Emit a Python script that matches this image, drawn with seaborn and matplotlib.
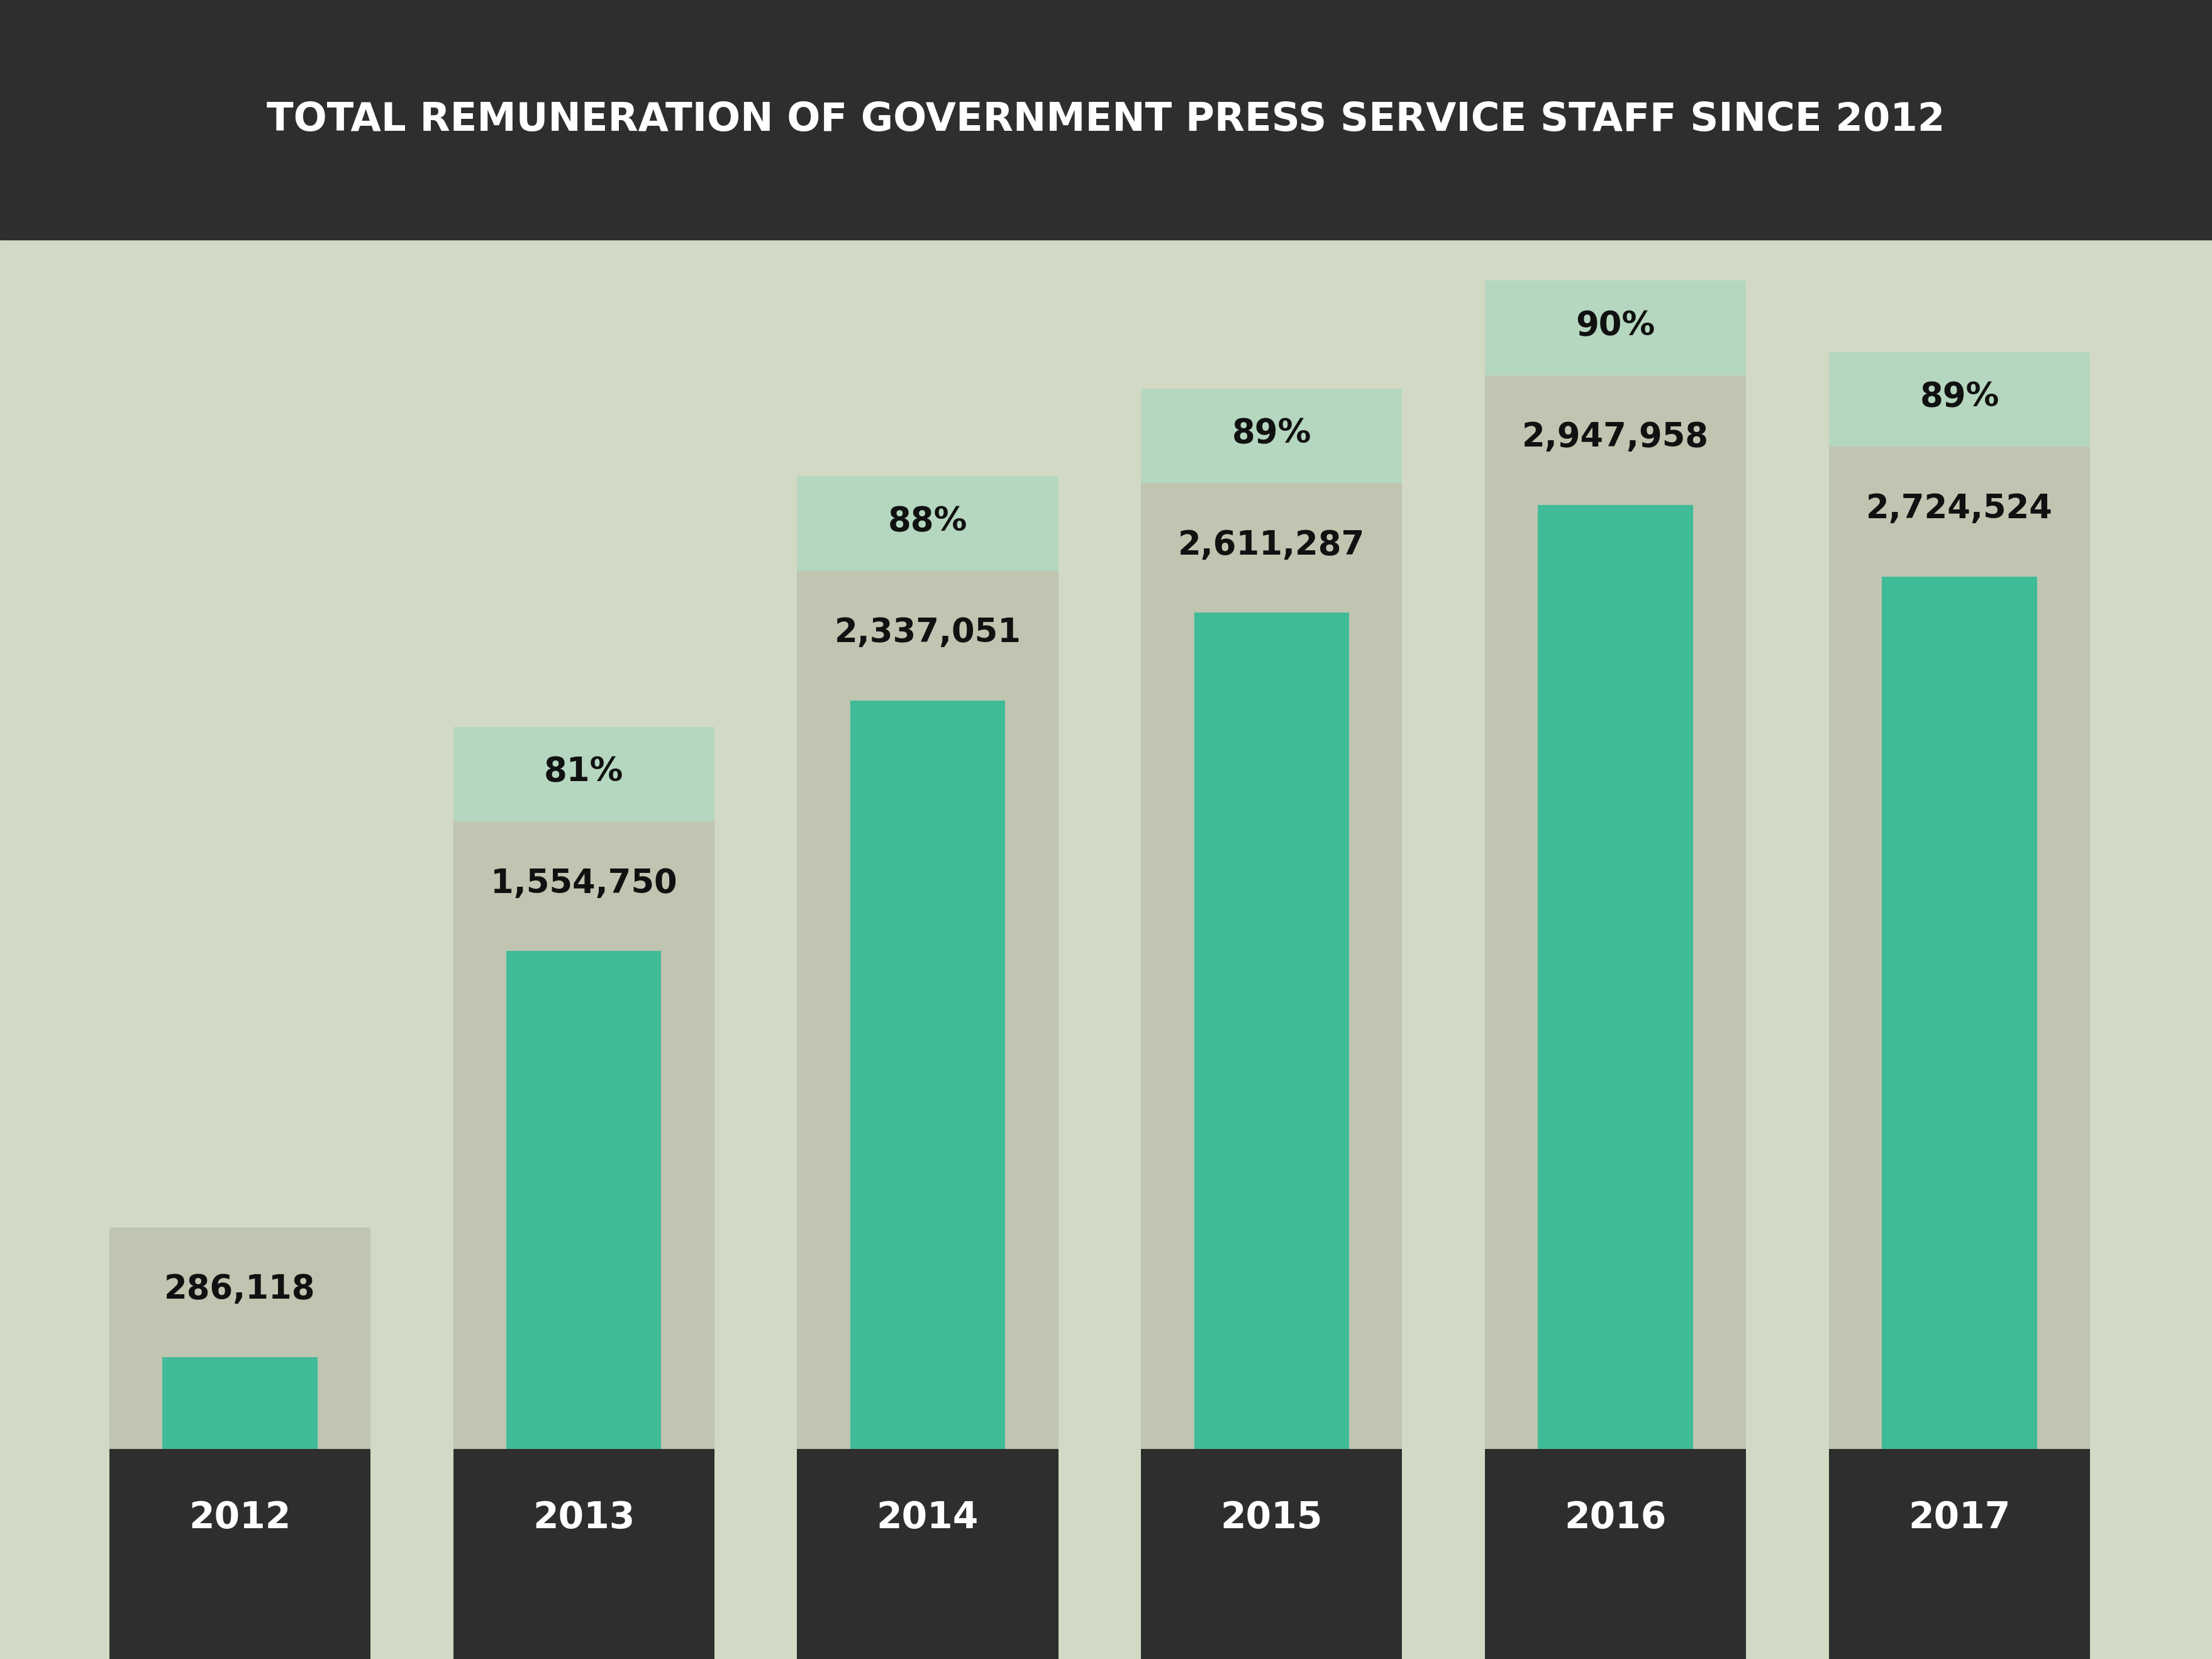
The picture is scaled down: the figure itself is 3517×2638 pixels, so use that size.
import matplotlib
matplotlib.use("Agg")
import matplotlib.pyplot as plt
import seaborn as sns
import pandas as pd
from matplotlib.patches import Rectangle

years = ["2012", "2013", "2014", "2015", "2016", "2017"]
values = [286118, 1554750, 2337051, 2611287, 2947958, 2724524]
percents = [None, "81%", "88%", "89%", "90%", "89%"]

sns.set_theme(style="white")
plt.rcParams['font.family'] = ['Liberation Sans Narrow', 'DejaVu Sans']

BG = "#d2d9c4"
DARK = "#2e2e2e"
GREEN = "#40bb98"
SHADE = "#c0c5b1"
PCT = "#b5d7bf"

W, H = 1568, 1176  # layout units (reference display)
fig = plt.figure(figsize=(35.17, 26.38), dpi=100, facecolor=BG)
fig.patches.append(Rectangle((0, 1 - 170 / H), 1, 170 / H, transform=fig.transFigure,
                             color=DARK, zorder=0))
fig.text(0.5, 1 - 85 / H, "TOTAL REMUNERATION OF GOVERNMENT PRESS SERVICE STAFF SINCE 2012",
         color="white", ha="center", va="center", fontsize=45, fontweight="bold")

ax = fig.add_axes([0, 0, 1, 1 - 170 / H])
ax.set_facecolor(BG)
px = 4406.0
step = 243.8

df = pd.DataFrame({"year": years, "value": values})
sns.barplot(data=df, x="year", y="value", color=GREEN, saturation=1, width=0.451,
            ax=ax, linewidth=0, zorder=2)
for p in ax.patches:
    p.set_zorder(2)
    p.set_linewidth(0)

for i, v in enumerate(values):
    top = v + 92 * px
    ax.add_patch(Rectangle((i - 0.3795, 0), 0.759, top, color=SHADE, zorder=1, lw=0))
    if percents[i]:
        ax.add_patch(Rectangle((i - 0.3795, top), 0.759, 67 * px, color=PCT, zorder=1, lw=0))
        ax.text(i, top + 35 * px, percents[i], ha="center", va="center", fontsize=38,
                fontweight="bold", color="#111111", zorder=3)
    ax.text(i, v + 48 * px, f"{v:,}", ha="center", va="center", fontsize=38,
            fontweight="bold", color="#111111", zorder=3)
    ax.add_patch(Rectangle((i - 0.3795, -149 * px), 0.759, 149 * px, color=DARK, zorder=2, lw=0))
    ax.text(i, -49 * px, years[i], ha="center", va="center", fontsize=42,
            fontweight="bold", color="white", zorder=3)

ax.set_xlim(-170 / step, (W - 170) / step)
ax.set_ylim(-149 * px, (1027 - 170) * px)
ax.axis("off")
fig.savefig("out.png", dpi=100, facecolor=BG)
